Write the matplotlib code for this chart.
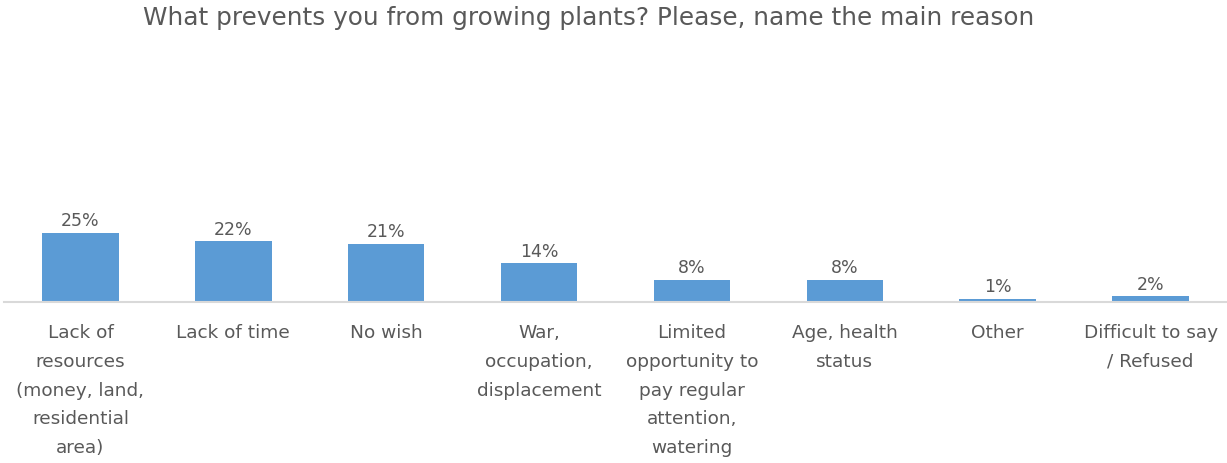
import matplotlib.pyplot as plt
import numpy as np

# Datos
categorias = [
    "Lack of\nresources\n(money, land,\nresidential\narea)",
    "Lack of time",
    "No wish",
    "War,\noccupation,\ndisplacement",
    "Limited\nopportunity to\npay regular\nattention,\nwatering",
    "Age, health\nstatus",
    "Other",
    "Difficult to say\n/ Refused",
]
valores = [25, 22, 21, 14, 8, 8, 1, 2]
titulo = "What prevents you from growing plants? Please, name the main reason"

color_barra = "#5B9BD5"
color_texto = "#595959"

fig = plt.figure(figsize=(12.27, 4.63), dpi=100)
# ejes colocados a mano: base en y=302 px, 1% ~ 2.76 px
ax = fig.add_axes([4 / 1227, 1 - 302 / 463, 1 - 4 / 1227, 276 / 463])

x = np.arange(len(valores))
barras = ax.bar(x, valores, width=0.5, color=color_barra)
ax.set_xlim(-0.5, len(valores) - 0.5)
ax.set_ylim(0, 100)

for rect, v in zip(barras, valores):
    ax.annotate(f"{v}%", (rect.get_x() + rect.get_width() / 2, v),
                xytext=(0, 2), textcoords="offset points",
                ha="center", va="bottom", fontsize=12.5, color=color_texto)

ax.set_xticks(x)
ax.set_xticklabels(categorias, fontsize=13.3, color=color_texto, linespacing=1.76)
ax.tick_params(axis="x", length=0, pad=16)
ax.set_yticks([])
for lado in ["top", "left", "right"]:
    ax.spines[lado].set_visible(False)
ax.spines["bottom"].set_color("#D9D9D9")
ax.spines["bottom"].set_linewidth(1.5)

fig.text(589 / 1227, 1 - 18 / 463, titulo, ha="center", va="center",
         fontsize=17.8, color=color_texto)

fig.savefig("out.png", dpi=100)
